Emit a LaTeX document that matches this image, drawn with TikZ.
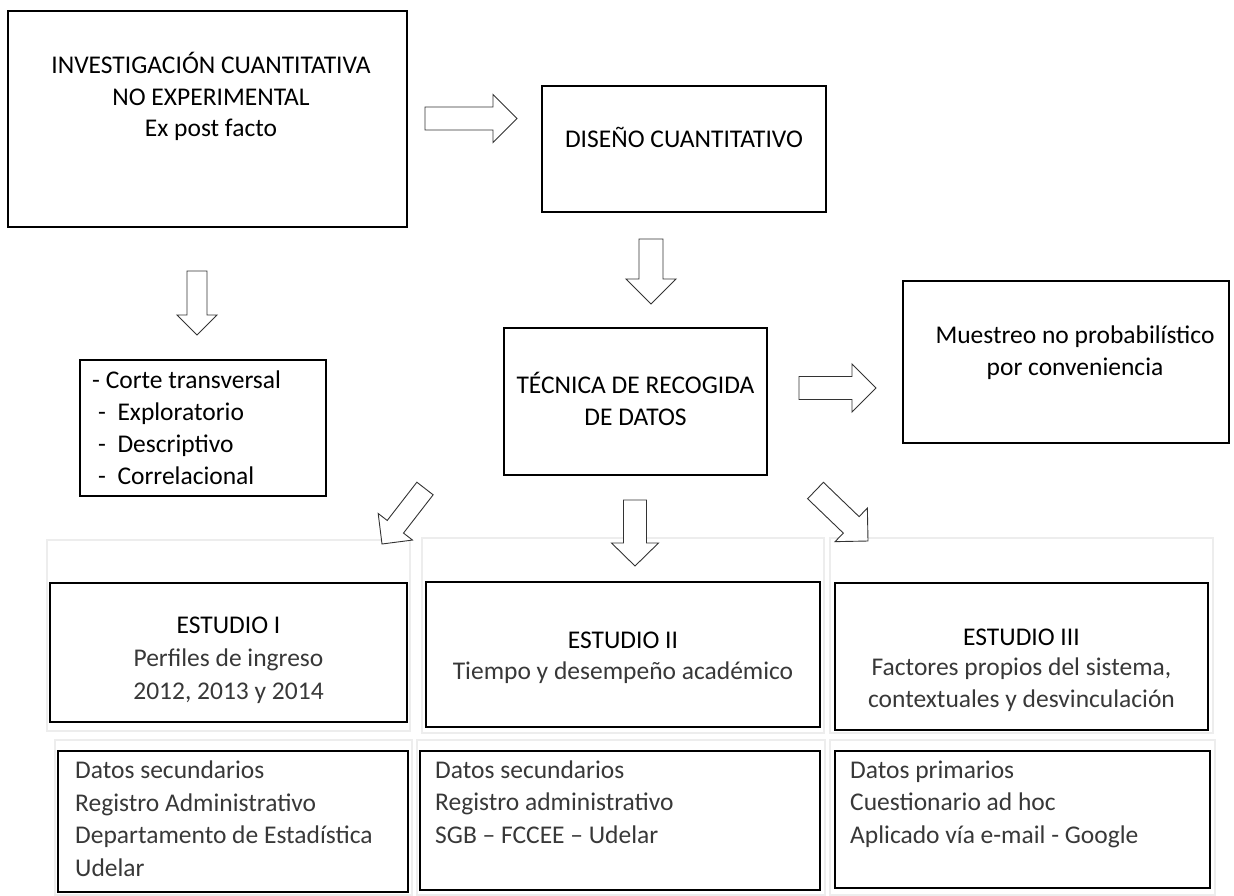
\documentclass[tikz,border=0pt]{standalone}
\usepackage{fontspec}
\setmainfont{Carlito}
\usetikzlibrary{calc}
\newcommand{\blockarrow}[5]{%
  \coordinate (#1-hb) at ($(#2)!#4!(#1)$);
  \draw[barrow] ($(#1)!#3!90:(#2)$) -- ($(#1-hb)!#3!90:(#2)$) -- ($(#1-hb)!#5!90:(#2)$) -- (#2)
     -- ($(#1-hb)!#5!-90:(#2)$) -- ($(#1-hb)!#3!-90:(#2)$) -- ($(#1)!#3!-90:(#2)$) -- cycle;
}
\newcommand{\rectnode}[6]{%
  \node[#6, anchor=north west, minimum width={#4pt-#2pt}, minimum height={#5pt-#3pt}] (#1) at (#2,#3) {};
}
\begin{document}
\begin{tikzpicture}[x=1pt,y=-1pt,
  box/.style={draw=black, line width=2.6pt, inner sep=0pt, outer sep=0pt},
  faint/.style={draw=black!7, line width=2pt, inner sep=0pt, outer sep=0pt},
  barrow/.style={draw=black!80, line width=0.9pt, fill=white, line join=miter},
  txt/.style={font=\fontsize{25.5}{32}\selectfont, inner sep=0pt, anchor=base, text=black},
  ltxt/.style={txt, text=black!78},
  ltxtl/.style={ltxt, anchor=base west},
]
\useasboundingbox (0,0) rectangle (1234,895);

% faint frames
\rectnode{f1}{47}{540}{410}{731}{faint}
\rectnode{f2}{422}{538}{824}{733}{faint}
\rectnode{f3}{830}{538}{1213}{733}{faint}
\rectnode{f4}{55}{740}{412}{895}{faint}
\rectnode{f5}{417}{740}{825}{895}{faint}
\rectnode{f6}{830}{740}{1215}{895}{faint}

% main boxes
\rectnode{inv}{8}{11}{407}{227}{box}
\node[txt] (inv1) at (211,73) {INVESTIGACIÓN CUANTITATIVA};
\node[txt] (inv2) at (211,105) {NO EXPERIMENTAL};
\node[txt] (inv3) at (211,136) {Ex post facto};

\rectnode{dis}{542}{86}{826}{212}{box}
\node[txt] (dis1) at (684,147) {DISEÑO CUANTITATIVO};

\rectnode{tec}{504}{328}{767}{475}{box}
\node[txt] (tec1) at (635.5,393) {TÉCNICA DE RECOGIDA};
\node[txt] (tec2) at (635.5,425) {DE DATOS};

\rectnode{mue}{903}{281}{1229}{443}{box}
\node[txt] (mue1) at (1075,343) {Muestreo no probabilístico};
\node[txt] (mue2) at (1075,375) {por conveniencia};

\rectnode{lst}{80}{360}{326}{496}{box}
\node[txt, anchor=base west] (l1) at (92,388) {- Corte transversal};
\node[txt, anchor=base west] (l2) at (98,420) {-\ \ Exploratorio};
\node[txt, anchor=base west] (l3) at (98,452) {-\ \ Descriptivo};
\node[txt, anchor=base west] (l4) at (98,484) {-\ \ Correlacional};

\rectnode{e1}{50}{583}{407}{722}{box}
\node[txt] (e1a) at (228.5,633) {ESTUDIO I};
\node[ltxt] (e1b) at (228.5,666) {Perfiles de ingreso};
\node[ltxt] (e1c) at (228.5,699) {2012, 2013 y 2014};

\rectnode{e2}{426}{582}{820}{727}{box}
\node[txt] (e2a) at (623,648) {ESTUDIO II};
\node[ltxt] (e2b) at (623,679) {Tiempo y desempeño académico};

\rectnode{e3}{835}{583}{1208}{730}{box}
\node[txt] (e3a) at (1021.5,645) {ESTUDIO III};
\node[ltxt] (e3b) at (1021.5,675) {Factores propios del sistema,};
\node[ltxt] (e3c) at (1021.5,707) {contextuales y desvinculación};

\rectnode{d1}{58}{751}{408}{892}{box}
\node[ltxtl] (d1a) at (75,778) {Datos secundarios};
\node[ltxtl] (d1b) at (75,811) {Registro Administrativo};
\node[ltxtl] (d1c) at (75,843) {Departamento de Estadística};
\node[ltxtl] (d1d) at (75,876) {Udelar};

\rectnode{d2}{420}{751}{820}{890}{box}
\node[ltxtl] (d2a) at (435,778) {Datos secundarios};
\node[ltxtl] (d2b) at (435,810) {Registro administrativo};
\node[ltxtl] (d2c) at (435,843) {SGB – FCCEE – Udelar};

\rectnode{d3}{835}{751}{1210}{888}{box}
\node[ltxtl] (d3a) at (850,778) {Datos primarios};
\node[ltxtl] (d3b) at (850,810) {Cuestionario ad hoc};
\node[ltxtl] (d3c) at (850,843) {Aplicado vía e-mail - Google};

% block arrows
\coordinate (r1) at (425,118.5);  \coordinate (r1t) at (517,118.5);
\blockarrow{r1}{r1t}{11.5pt}{24pt}{24pt}
\coordinate (dd1) at (197,271);   \coordinate (dd1t) at (197,335);
\blockarrow{dd1}{dd1t}{10pt}{20pt}{20pt}
\coordinate (dd2) at (651,239);   \coordinate (dd2t) at (651,304);
\blockarrow{dd2}{dd2t}{12pt}{25pt}{25pt}
\coordinate (r2) at (799,388);    \coordinate (r2t) at (876,388);
\blockarrow{r2}{r2t}{11.5pt}{24pt}{24pt}
\coordinate (sw) at (425,488.5);  \coordinate (swt) at (382,544);
\blockarrow{sw}{swt}{10.3pt}{21.8pt}{21.7pt}
\coordinate (dd3) at (635,500);   \coordinate (dd3t) at (635,566);
\blockarrow{dd3}{dd3t}{11.5pt}{23pt}{23.5pt}
\coordinate (se) at (815.5,490.5); \coordinate (set) at (868,541);
\blockarrow{se}{set}{11.4pt}{23.3pt}{23.3pt}
\end{tikzpicture}
\end{document}
